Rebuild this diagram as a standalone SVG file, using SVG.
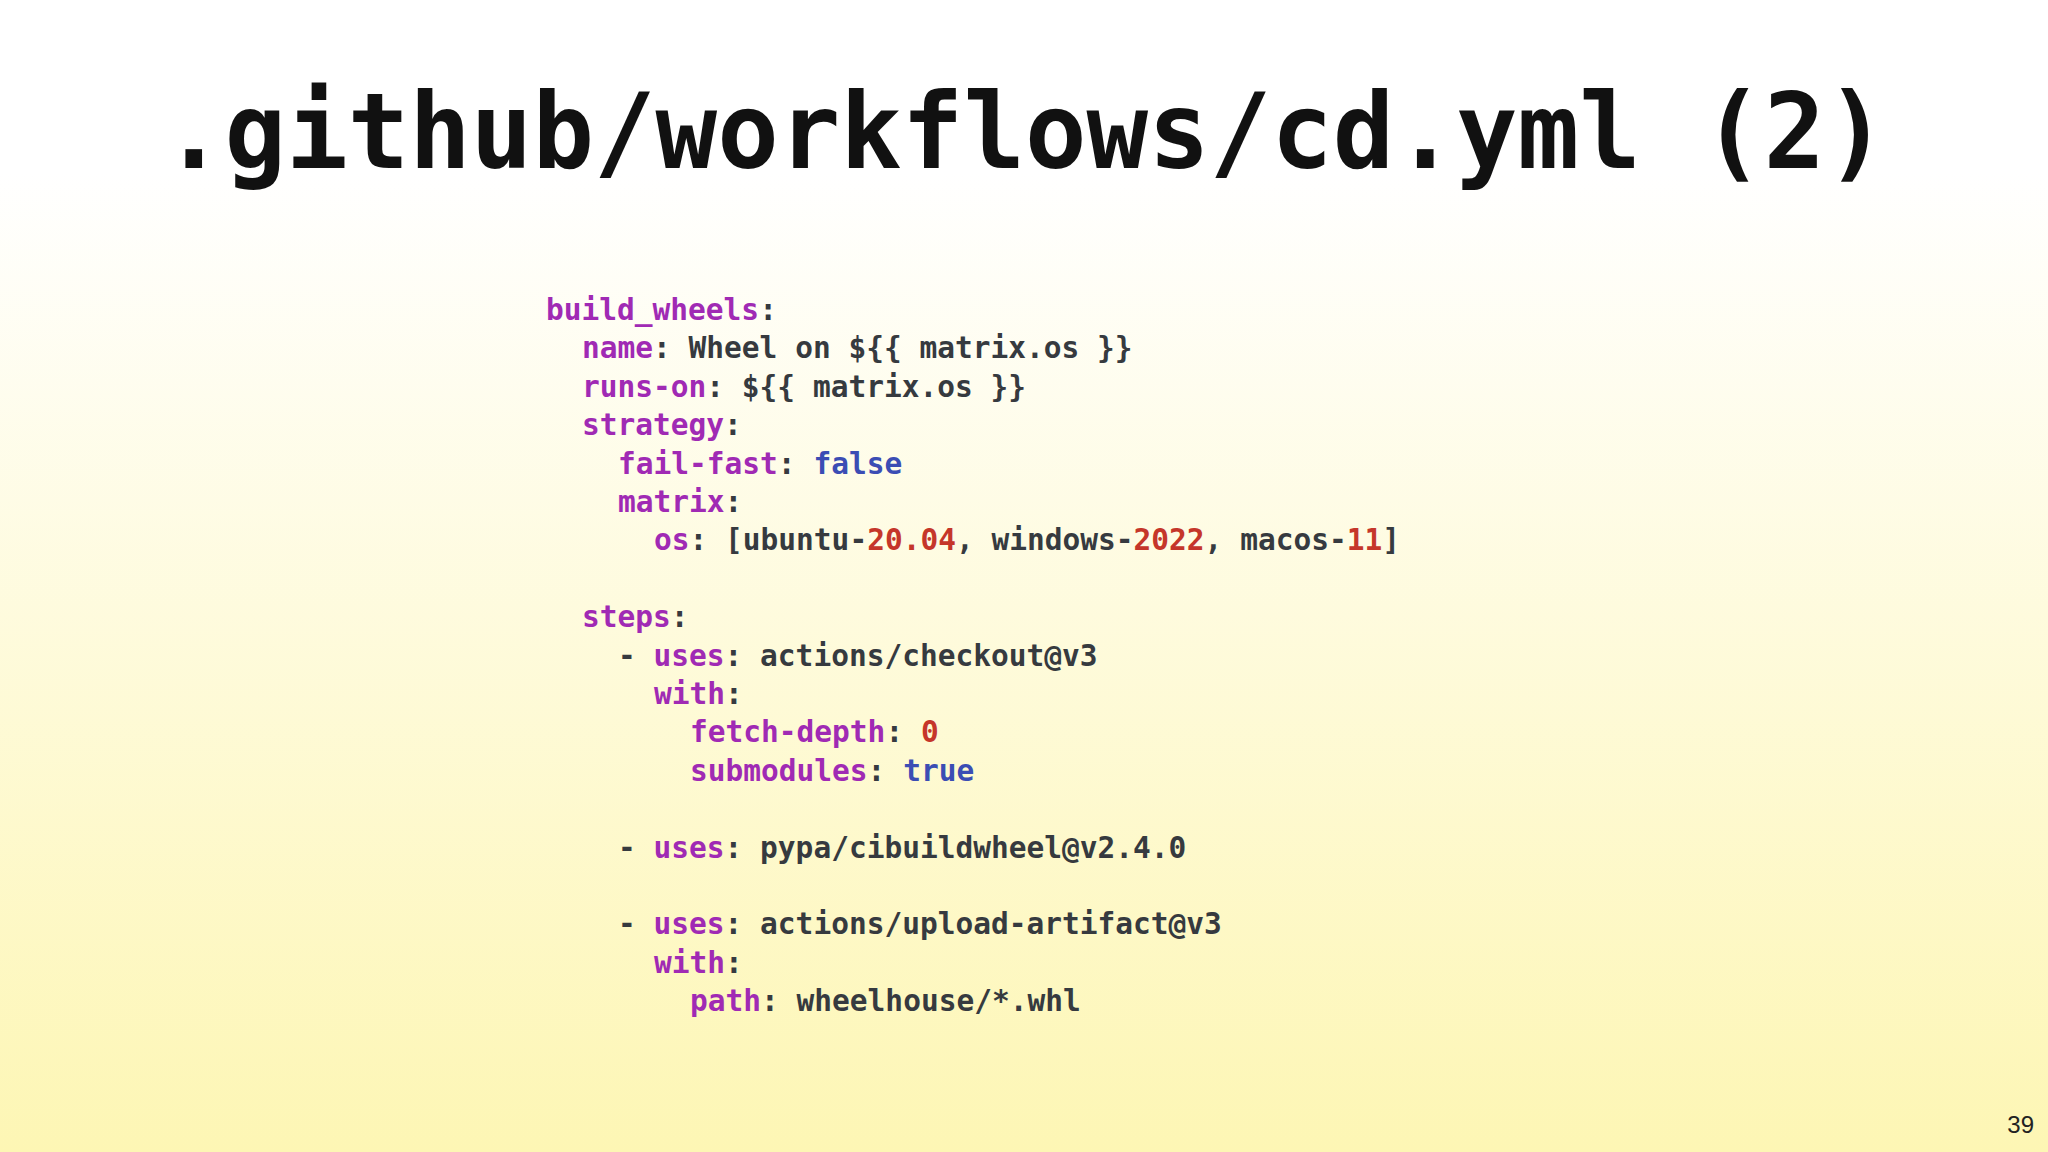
<svg xmlns="http://www.w3.org/2000/svg" width="2048" height="1152" viewBox="0 0 2048 1152">
<defs>
<linearGradient id="bg" x1="0" y1="0" x2="0" y2="1">
<stop offset="0" stop-color="#ffffff"/>
<stop offset="0.15" stop-color="#ffffff"/>
<stop offset="1" stop-color="#fdf6b4"/>
</linearGradient>
<style>
.c text{font-family:"DejaVu Sans Mono","Liberation Mono",monospace;font-weight:bold;font-size:29.5px;fill:#363a3f}
.k{fill:#a02ab4}.b{fill:#3b4db4}.n{fill:#c5362a}
</style>
</defs>
<rect width="2048" height="1152" fill="url(#bg)"/>
<text x="163" y="168" font-family="DejaVu Sans Mono, monospace" font-weight="bold" font-size="106" fill="#111" textLength="1724" lengthAdjust="spacingAndGlyphs">.github/workflows/cd.yml (2)</text>
<g id="code" class="c">
<text x="546" y="320"><tspan class="k">build_wheels</tspan>:</text>
<text x="582" y="358.4"><tspan class="k">name</tspan>: Wheel on ${{ matrix.os }}</text>
<text x="582" y="396.8"><tspan class="k">runs-on</tspan>: ${{ matrix.os }}</text>
<text x="582" y="435.2"><tspan class="k">strategy</tspan>:</text>
<text x="618" y="473.6"><tspan class="k">fail-fast</tspan>: <tspan class="b">false</tspan></text>
<text x="618" y="512"><tspan class="k">matrix</tspan>:</text>
<text x="654" y="550.4"><tspan class="k">os</tspan>: [ubuntu-<tspan class="n">20.04</tspan>, windows-<tspan class="n">2022</tspan>, macos-<tspan class="n">11</tspan>]</text>
<text x="582" y="627.2"><tspan class="k">steps</tspan>:</text>
<text x="618" y="665.6">- <tspan class="k">uses</tspan>: actions/checkout@v3</text>
<text x="654" y="704"><tspan class="k">with</tspan>:</text>
<text x="690" y="742.4"><tspan class="k">fetch-depth</tspan>: <tspan class="n">0</tspan></text>
<text x="690" y="780.8"><tspan class="k">submodules</tspan>: <tspan class="b">true</tspan></text>
<text x="618" y="857.6">- <tspan class="k">uses</tspan>: pypa/cibuildwheel@v2.4.0</text>
<text x="618" y="934.4">- <tspan class="k">uses</tspan>: actions/upload-artifact@v3</text>
<text x="654" y="972.8"><tspan class="k">with</tspan>:</text>
<text x="690" y="1011.2"><tspan class="k">path</tspan>: wheelhouse/*.whl</text>
</g>
<text x="2034" y="1133" text-anchor="end" font-family="Liberation Sans, sans-serif" font-size="24" fill="#222">39</text>
</svg>
